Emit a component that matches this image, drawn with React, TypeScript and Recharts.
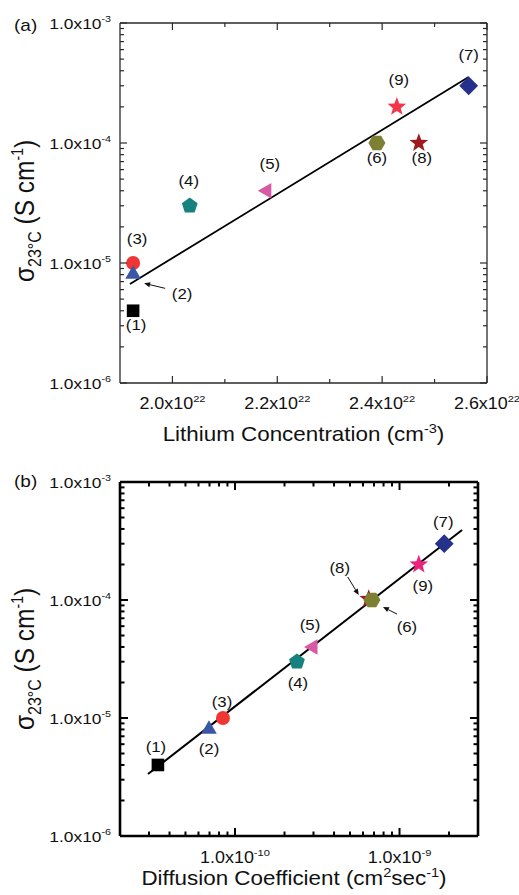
import React from 'react';
import { ScatterChart, Scatter, XAxis, YAxis } from 'recharts';

const FONT = '"Liberation Sans", Arial, Helvetica, sans-serif';
const SX = 1.12;

// ---------- data ----------
const samples = ['(1)', '(2)', '(3)', '(4)', '(5)', '(6)', '(7)', '(8)', '(9)'];
const markerKinds = ['square', 'triangle', 'circle', 'pentagon', 'leftTriangle', 'hexagon', 'diamond', 'star', 'star'];
const lithiumConc = [1.925e22, 1.925e22, 1.925e22, 2.033e22, 2.18e22, 2.39e22, 2.565e22, 2.47e22, 2.428e22];
const conductivityA = [4e-6, 8.2e-6, 1e-5, 3e-5, 4e-5, 1e-4, 3e-4, 1e-4, 2e-4];
const diffusion = [3.4e-11, 6.95e-11, 8.45e-11, 2.38e-10, 2.98e-10, 6.8e-10, 1.87e-9, 6.5e-10, 1.31e-9];
const conductivityB = [4e-6, 8.2e-6, 1e-5, 3e-5, 4e-5, 1e-4, 3e-4, 1.02e-4, 2e-4];
const coloursA = ['#000000', '#3a57a6', '#f03535', '#15827f', '#d85aa5', '#7d7f33', '#25318a', '#9e1a1f', '#f4364a'];
const coloursB = ['#000000', '#3a57a6', '#f03535', '#15827f', '#d85aa5', '#7d7f33', '#25318a', '#9e1a1f', '#ec2280'];

const fitAX = [1.919e22, 2.565e22];
const fitAY = [6.68e-6, 3.55e-4];
const fitBX = [2.96e-11, 2.4e-9];
const fitBY = [3.35e-6, 3.92e-4];

const concTicks = [2.0e22, 2.1e22, 2.2e22, 2.3e22, 2.4e22, 2.5e22, 2.6e22];
const concMajor = [2.0e22, 2.2e22, 2.4e22, 2.6e22];
const sigmaTicks = [
  1e-6, 2e-6, 3e-6, 4e-6, 5e-6, 6e-6, 7e-6, 8e-6, 9e-6,
  1e-5, 2e-5, 3e-5, 4e-5, 5e-5, 6e-5, 7e-5, 8e-5, 9e-5,
  1e-4, 2e-4, 3e-4, 4e-4, 5e-4, 6e-4, 7e-4, 8e-4, 9e-4,
  1e-3,
];
const sigmaMajor = [1e-6, 1e-5, 1e-4, 1e-3];
const diffTicks = [
  3e-11, 4e-11, 5e-11, 6e-11, 7e-11, 8e-11, 9e-11,
  1e-10, 2e-10, 3e-10, 4e-10, 5e-10, 6e-10, 7e-10, 8e-10, 9e-10,
  1e-9, 2e-9, 3e-9,
];
const diffMajor = [1e-10, 1e-9];

// ---------- layout / style (not data) ----------
const labelOffsetsA: [number, number][] = [[3, 14], [49, 20], [4, -25], [-1, -25], [3, -27], [0, 14], [0, -31], [3, 14], [2, -27]];
const labelOffsetsB: [number, number][] = [[-2, -18], [0, 20], [-1, -17], [1, 21], [-3, -22], [35, 26], [-1, -22], [-29, -31], [4, 21]];
type Arrow = { from: [number, number]; to: [number, number] } | null;
const arrowsA: Arrow[] = [null, { from: [32, 15], to: [11, 10] }, null, null, null, null, null, null, null];
const arrowsB: Arrow[] = [null, null, null, null, null, { from: [25, 14], to: [11, 7] }, null, { from: [-21, -22], to: [-10, -4] }, null];
const orderA = [0, 2, 1, 3, 4, 5, 6, 7, 8];
const orderB = [0, 1, 2, 3, 4, 7, 5, 6, 8];

type AxisStyle = { color: string; axisWidth: number; tickWidth: number; major: number; minor: number };
const styleA: AxisStyle = { color: '#2a2a2a', axisWidth: 1.3, tickWidth: 1.2, major: 7, minor: 4 };
const styleB: AxisStyle = { color: '#000000', axisWidth: 2.6, tickWidth: 2, major: 8, minor: 4.5 };

const near = (v: number, list: number[]) => list.some((m) => Math.abs(v / m - 1) < 1e-6);

function T({ x, y, size, anchor = 'middle', rotate = false, children }: any) {
  return (
    <g transform={`translate(${x} ${y}) scale(${SX} 1)${rotate ? ' rotate(-90)' : ''}`}>
      <text x={0} y={0} textAnchor={anchor} fontSize={size} fontFamily={FONT} fill="#111">
        {children}
      </text>
    </g>
  );
}

function Sci({ x, y, v, exp, size, anchor }: any) {
  const e = exp ?? Math.round(Math.log10(v));
  const mant = (v / Math.pow(10, e)).toFixed(1);
  return (
    <T x={x} y={y} size={size} anchor={anchor}>
      <tspan>{mant}x10</tspan>
      <tspan dy={-size * 0.45} fontSize={size * 0.62}>{String(e)}</tspan>
    </T>
  );
}

const makeTick = (side: string, majors: number[], st: AxisStyle, label?: { size: number; dx: number; dy: number; exp?: number }) =>
  (props: any) => {
    const { x, y, payload } = props;
    const v = payload.value;
    const major = near(v, majors);
    const len = major ? st.major : st.minor;
    let x2 = x;
    let y2 = y;
    if (side === 'bottom') y2 = y - len;
    if (side === 'top') y2 = y + len;
    if (side === 'left') x2 = x + len;
    if (side === 'right') x2 = x - len;
    return (
      <g>
        <line x1={x} y1={y} x2={x2} y2={y2} stroke={st.color} strokeWidth={st.tickWidth} />
        {label && major && side === 'bottom' && <Sci x={x} y={y + label.dy} v={v} exp={label.exp} size={label.size} anchor="middle" />}
        {label && major && side === 'left' && <Sci x={x - label.dx} y={y + label.dy} v={v} exp={label.exp} size={label.size} anchor="end" />}
      </g>
    );
  };

function poly(cx: number, cy: number, n: number, r: number, rotDeg: number) {
  const pts: string[] = [];
  for (let i = 0; i < n; i++) {
    const a = ((rotDeg + (360 / n) * i) * Math.PI) / 180;
    pts.push(`${cx + r * Math.cos(a)},${cy + r * Math.sin(a)}`);
  }
  return pts.join(' ');
}
function starPts(cx: number, cy: number, R: number, r: number) {
  const pts: string[] = [];
  for (let i = 0; i < 10; i++) {
    const a = ((-90 + 36 * i) * Math.PI) / 180;
    const rr = i % 2 === 0 ? R : r;
    pts.push(`${cx + rr * Math.cos(a)},${cy + rr * Math.sin(a)}`);
  }
  return pts.join(' ');
}

function Marker({ kind, cx, cy, fill }: any) {
  switch (kind) {
    case 'square':
      return <rect x={cx - 6.3} y={cy - 6.3} width={12.6} height={12.6} fill={fill} />;
    case 'circle':
      return <circle cx={cx} cy={cy} r={7} fill={fill} />;
    case 'triangle':
      return <polygon points={poly(cx, cy + 1, 3, 9, -90)} fill={fill} />;
    case 'leftTriangle':
      return <polygon points={poly(cx, cy, 3, 9, 180)} fill={fill} />;
    case 'pentagon':
      return <polygon points={poly(cx, cy, 5, 8.3, -90)} fill={fill} />;
    case 'hexagon':
      return <polygon points={poly(cx, cy, 6, 8.5, 0)} fill={fill} />;
    case 'diamond':
      return <polygon points={poly(cx, cy, 4, 9.4, -90)} fill={fill} />;
    default:
      return <polygon points={starPts(cx, cy, 9.8, 4.1)} fill={fill} />;
  }
}

function ArrowMark({ cx, cy, a }: any) {
  const x1 = cx + a.from[0];
  const y1 = cy + a.from[1];
  const x2 = cx + a.to[0];
  const y2 = cy + a.to[1];
  const ang = Math.atan2(y2 - y1, x2 - x1);
  const L = 6;
  const W = 2.6;
  const bx = x2 - L * Math.cos(ang);
  const by = y2 - L * Math.sin(ang);
  const p = `${x2},${y2} ${bx + W * Math.sin(ang)},${by - W * Math.cos(ang)} ${bx - W * Math.sin(ang)},${by + W * Math.cos(ang)}`;
  return (
    <g>
      <line x1={x1} y1={y1} x2={bx} y2={by} stroke="#111" strokeWidth={1} />
      <polygon points={p} fill="#111" />
    </g>
  );
}

const makeShape = (i: number, colours: string[], offsets: [number, number][], arrows: Arrow[]) => (props: any) => {
  const { cx, cy } = props;
  const [dx, dy] = offsets[i];
  return (
    <g>
      <Marker kind={markerKinds[i]} cx={cx} cy={cy} fill={colours[i]} />
      <T x={cx + dx} y={cy + dy + 5.5} size={15}>{samples[i]}</T>
      {arrows[i] && <ArrowMark cx={cx} cy={cy} a={arrows[i]} />}
    </g>
  );
};

const Empty = () => <g />;

function XTitle({ viewBox, text, dy, shift }: any) {
  const vb = viewBox || { x: 0, y: 0, width: 0, height: 0 };
  return (
    <T x={vb.x + vb.width / 2 + (shift || 0)} y={vb.y + dy} size={20}>
      {text}
    </T>
  );
}

function YTitle({ viewBox, panel, shift, panelDy }: any) {
  const vb = viewBox || { x: 0, y: 0, width: 0, height: 0 };
  const cy = vb.y + vb.height / 2 + shift;
  return (
    <g>
      <T x={vb.x + vb.width - 86} y={cy} size={24.5} rotate>
        <tspan>σ</tspan>
        <tspan fontSize={16} dy={6}>23°C</tspan>
        <tspan dy={-6}> (S cm</tspan>
        <tspan fontSize={14} dy={-10}>-1</tspan>
        <tspan dy={10}>)</tspan>
      </T>
      <T x={14} y={vb.y + panelDy} size={17} anchor="start">{panel}</T>
    </g>
  );
}

const dataA = samples.map((_, i) => [{ x: lithiumConc[i], y: conductivityA[i] }]);
const dataB = samples.map((_, i) => [{ x: diffusion[i], y: conductivityB[i] }]);
const fitA = fitAX.map((x, i) => ({ x, y: fitAY[i] }));
const fitB = fitBX.map((x, i) => ({ x, y: fitBY[i] }));

function PanelA() {
  const st = styleA;
  const axisLine = { stroke: st.color, strokeWidth: st.axisWidth };
  return (
    <ScatterChart width={519} height={450} margin={{ top: 22, left: 119, right: 31, bottom: 66 }}>
      <XAxis xAxisId="bx" type="number" dataKey="x" domain={[1.9e22, 2.6e22]} allowDataOverflow ticks={concTicks} interval={0}
        height={1} tickSize={0} tickMargin={0} tickLine={false} axisLine={axisLine}
        tick={makeTick('bottom', concMajor, st, { size: 16, dx: 0, dy: 26, exp: 22 })}
        label={<XTitle text={<><tspan>Lithium Concentration (cm</tspan><tspan dy={-8} fontSize={13}>-3</tspan><tspan dy={8}>)</tspan></>} dy={58} />} />
      <XAxis xAxisId="tx" orientation="top" type="number" dataKey="x" domain={[1.9e22, 2.6e22]} allowDataOverflow ticks={concTicks} interval={0}
        height={1} tickSize={0} tickMargin={0} tickLine={false} axisLine={axisLine} tick={makeTick('top', concMajor, st)} />
      <YAxis yAxisId="ly" type="number" dataKey="y" scale="log" domain={[1e-6, 1e-3]} allowDataOverflow ticks={sigmaTicks} interval={0}
        width={1} tickSize={0} tickMargin={0} tickLine={false} axisLine={axisLine}
        tick={makeTick('left', sigmaMajor, st, { size: 15.5, dx: 9, dy: 6 })}
        label={<YTitle panel="(a)" shift={8} panelDy={8} />} />
      <YAxis yAxisId="ry" orientation="right" type="number" dataKey="y" scale="log" domain={[1e-6, 1e-3]} allowDataOverflow ticks={sigmaTicks} interval={0}
        width={1} tickSize={0} tickMargin={0} tickLine={false} axisLine={axisLine} tick={makeTick('right', sigmaMajor, st)} />
      <Scatter xAxisId="tx" yAxisId="ry" data={fitA} shape={Empty} isAnimationActive={false} />
      <Scatter xAxisId="bx" yAxisId="ly" data={fitA} line={{ stroke: '#000', strokeWidth: 1.8 }} lineType="joint" shape={Empty} isAnimationActive={false} />
      {orderA.map((i) => (
        <Scatter key={i} xAxisId="bx" yAxisId="ly" data={dataA[i]} shape={makeShape(i, coloursA, labelOffsetsA, arrowsA)} isAnimationActive={false} />
      ))}
    </ScatterChart>
  );
}

function PanelB() {
  const st = styleB;
  const axisLine = { stroke: st.color, strokeWidth: st.axisWidth };
  return (
    <ScatterChart width={519} height={445} margin={{ top: 31, left: 119, right: 40, bottom: 58 }}>
      <XAxis xAxisId="bx" type="number" dataKey="x" scale="log" domain={[2e-11, 3e-9]} allowDataOverflow ticks={diffTicks} interval={0}
        height={1} tickSize={0} tickMargin={0} tickLine={false} axisLine={axisLine}
        tick={makeTick('bottom', diffMajor, st, { size: 16, dx: 0, dy: 27 })}
        label={<XTitle text={<><tspan>Diffusion Coefficient (cm</tspan><tspan dy={-8} fontSize={13}>2</tspan><tspan dy={8}>sec</tspan><tspan dy={-8} fontSize={13}>-1</tspan><tspan dy={8}>)</tspan></>} dy={49} shift={-5} />} />
      <XAxis xAxisId="tx" orientation="top" type="number" dataKey="x" scale="log" domain={[2e-11, 3e-9]} allowDataOverflow ticks={diffTicks} interval={0}
        height={1} tickSize={0} tickMargin={0} tickLine={false} axisLine={axisLine} tick={makeTick('top', diffMajor, st)} />
      <YAxis yAxisId="ly" type="number" dataKey="y" scale="log" domain={[1e-6, 1e-3]} allowDataOverflow ticks={sigmaTicks} interval={0}
        width={1} tickSize={0} tickMargin={0} tickLine={false} axisLine={axisLine}
        tick={makeTick('left', sigmaMajor, st, { size: 15.5, dx: 9, dy: 5.5 })}
        label={<YTitle panel="(b)" shift={0} panelDy={5} />} />
      <YAxis yAxisId="ry" orientation="right" type="number" dataKey="y" scale="log" domain={[1e-6, 1e-3]} allowDataOverflow ticks={sigmaTicks} interval={0}
        width={1} tickSize={0} tickMargin={0} tickLine={false} axisLine={axisLine} tick={makeTick('right', sigmaMajor, st)} />
      <Scatter xAxisId="tx" yAxisId="ry" data={fitB} shape={Empty} isAnimationActive={false} />
      <Scatter xAxisId="bx" yAxisId="ly" data={fitB} line={{ stroke: '#000', strokeWidth: 2 }} lineType="joint" shape={Empty} isAnimationActive={false} />
      {orderB.map((i) => (
        <Scatter key={i} xAxisId="bx" yAxisId="ly" data={dataB[i]} shape={makeShape(i, coloursB, labelOffsetsB, arrowsB)} isAnimationActive={false} />
      ))}
    </ScatterChart>
  );
}

export default function App() {
  return (
    <div style={{ position: 'absolute', left: 0, top: 0, width: 519, height: 895, background: '#fff' }}>
      <div style={{ position: 'absolute', left: 0, top: 0 }}>
        <PanelA />
      </div>
      <div style={{ position: 'absolute', left: 0, top: 450 }}>
        <PanelB />
      </div>
    </div>
  );
}
